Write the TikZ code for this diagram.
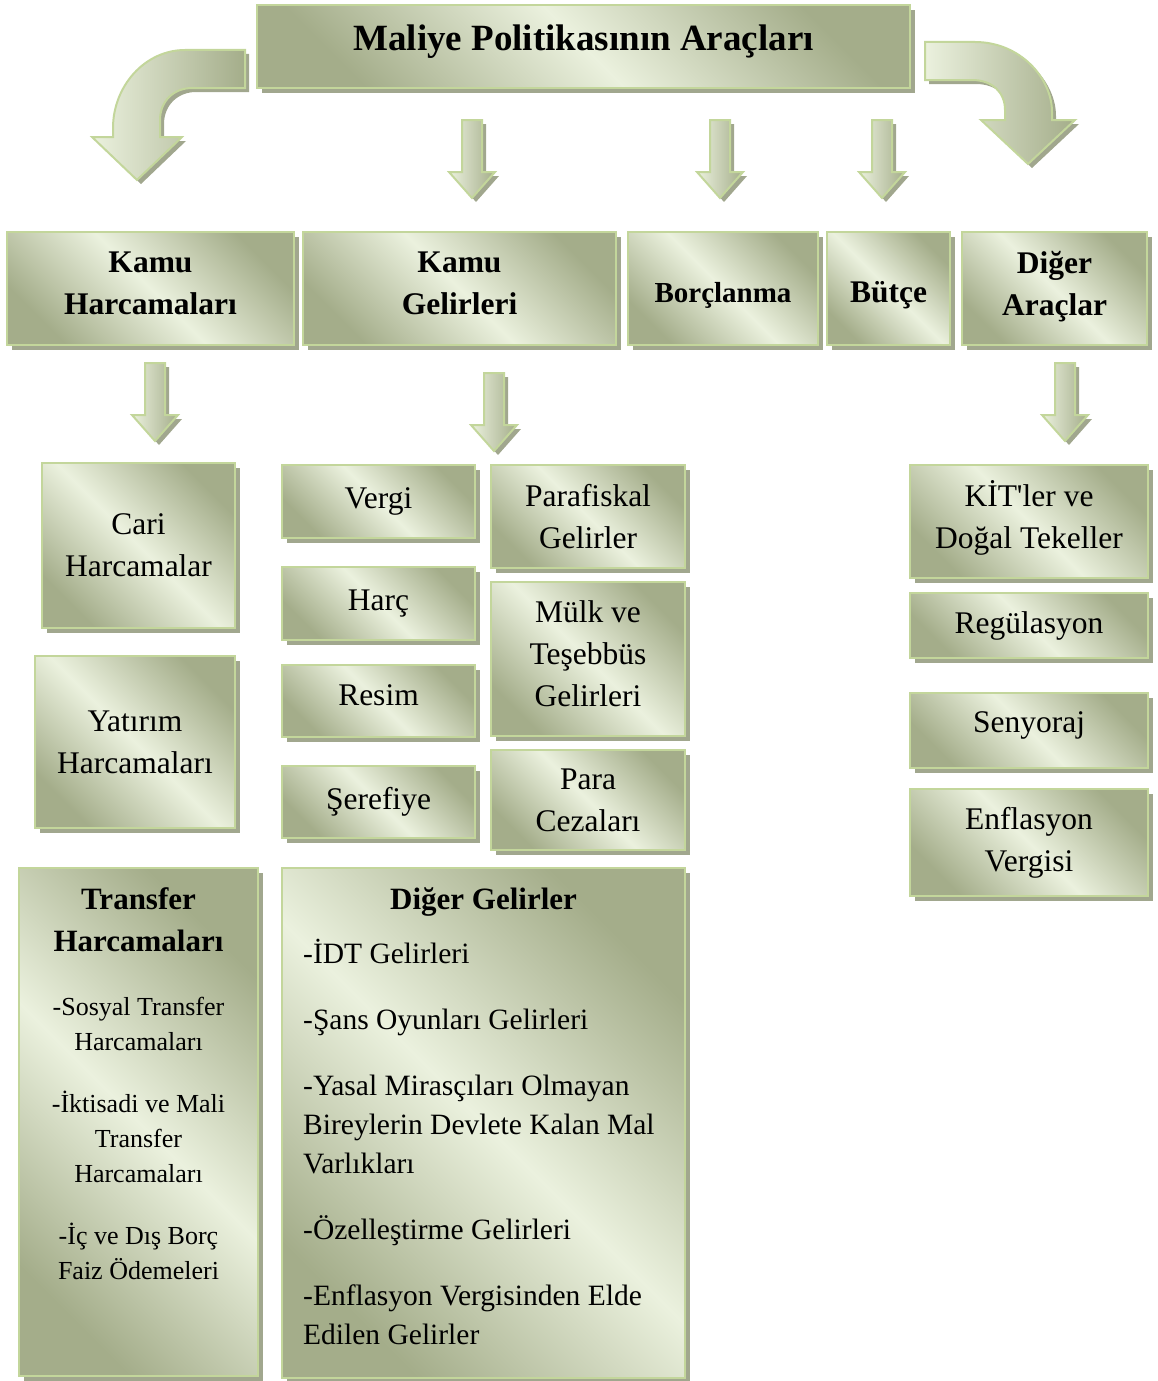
\documentclass[tikz,border=0pt]{standalone}
\usepackage{fontspec}
\setmainfont{Liberation Serif}
\usetikzlibrary{shadows}
\definecolor{boxline}{HTML}{C3D69B}
\definecolor{boxdark}{HTML}{A4AD8A}
\definecolor{boxlight}{HTML}{EBF1DE}
\definecolor{shadowc}{HTML}{A1A78E}
\newcommand\fsz[2]{\fontsize{#1pt}{#2pt}\selectfont}
\newcommand\lowstrut[1]{\rule[-#1]{0pt}{#1}}
\newcommand\highstrut[1]{\rule{0pt}{#1}}

\begin{document}
\begin{tikzpicture}[
x=1pt, y=-1pt,
green shade/.style={draw=boxline, line width=2.5pt,
  top color=boxdark, bottom color=boxdark, middle color=boxlight,
  shading angle=-45,
  drop shadow={shadow xshift=5pt, shadow yshift=-5pt, fill=shadowc, opacity=1}},
box/.style={green shade, rectangle, inner sep=0pt, align=center, font=\fsz{31.5}{42}},
headbox/.style={box, font=\bfseries\fsz{31.5}{42}},
arrowpath/.style={draw=boxline, line width=2pt, left color=boxlight, right color=boxdark,
  drop shadow={shadow xshift=4pt, shadow yshift=-4pt, fill=shadowc, opacity=1}},
dnarrow/.pic={\path[arrowpath] (-10,0) -- (10,0) -- (10,52) -- (23,52) -- (0,78) -- (-23,52) -- (-10,52) -- cycle;}
]
\useasboundingbox (0,0) rectangle (1158,1381);

% top
\node[headbox, minimum width=653pt, minimum height=83pt, text depth=18pt,
  font=\bfseries\fsz{37}{44}] (title) at (583.5,46.5) {Maliye Politikasının Araçları};

% curved arrows
\path[arrowpath] (245,50) -- (185,50) .. controls (145,50) and (113,86) .. (113,128)
  -- (113,137) -- (92,137) -- (137,180) -- (182,137) -- (160,137) -- (160,120)
  .. controls (160,101) and (174,88) .. (192,88) -- (245,88) -- cycle;
\path[arrowpath] (925,42) -- (975,42) .. controls (1020,42) and (1052,78) .. (1052,112)
  -- (1052,120) -- (1075,120) -- (1028,164) -- (981,120) -- (1005,120) -- (1005,110)
  .. controls (1005,92) and (992,80) .. (972,80) -- (925,80) -- cycle;

\pic at (472,120) {dnarrow};
\pic at (720,120) {dnarrow};
\pic at (882,120) {dnarrow};

% first row
\node[headbox, minimum width=287pt, minimum height=113pt] (kh) at (150.5,288.5) {Kamu\\Harcamaları\lowstrut{10pt}};
\node[headbox, minimum width=313pt, minimum height=113pt] (kg) at (459.5,288.5) {Kamu\\Gelirleri\lowstrut{10pt}};
\node[headbox, minimum width=190pt, minimum height=113pt, font=\bfseries\fsz{29}{42}] (borc) at (723,288.5) {\highstrut{34pt}Borçlanma};
\node[headbox, minimum width=123pt, minimum height=113pt] (butce) at (888.5,288.5) {\highstrut{35pt}Bütçe};
\node[headbox, minimum width=185pt, minimum height=113pt] (diger) at (1054.5,288.5) {Diğer\\Araçlar\lowstrut{10pt}};

\pic at (155,363) {dnarrow};
\pic at (494,373) {dnarrow};
\pic at (1065,363) {dnarrow};

% Kamu Harcamalari
\node[box, minimum width=193pt, minimum height=165pt] (cari) at (138.5,545.5) {Cari\\Harcamalar};
\node[box, minimum width=200pt, minimum height=172pt] (yatirim) at (135,742) {Yatırım\\Harcamaları};
\node[box, minimum width=239pt, minimum height=508pt] (transfer) at (138.5,1122) {};
\node[anchor=north, inner sep=0pt, align=center, font=\bfseries\fsz{31}{42}] (trhead) at (138.5,887) {Transfer\\Harcamaları};
\node[anchor=north, inner sep=0pt, align=center, font=\fsz{26}{35}] (trlist) at (138.5,997)
  {-Sosyal Transfer\\Harcamaları\\[27pt]-İktisadi ve Mali\\Transfer\\Harcamaları\\[27pt]-İç ve Dış Borç\\Faiz Ödemeleri};

% Kamu Gelirleri
\node[box, minimum width=193pt, minimum height=73pt] (vergi) at (378.5,501.5) {Vergi};
\node[box, minimum width=193pt, minimum height=73pt] (harc) at (378.5,603.5) {Harç};
\node[box, minimum width=193pt, minimum height=72pt] (resim) at (378.5,701) {Resim\lowstrut{12pt}};
\node[box, minimum width=193pt, minimum height=72pt] (serefiye) at (378.5,802) {Şerefiye};
\node[box, minimum width=194pt, minimum height=103pt] (parafiskal) at (588,516.5) {Parafiskal\\Gelirler};
\node[box, minimum width=194pt, minimum height=154pt] (mulk) at (588,659) {Mülk ve\\Teşebbüs\\Gelirleri\lowstrut{10pt}};
\node[box, minimum width=194pt, minimum height=100pt] (ceza) at (588,800) {Para\\Cezaları};
\node[box, minimum width=403pt, minimum height=510pt] (dgel) at (483.5,1123) {};
\node[anchor=north, inner sep=0pt, font=\bfseries\fsz{31}{42}] (dghead) at (483.5,887) {Diğer Gelirler};
\node[anchor=north west, inner sep=0pt, align=left, font=\fsz{29.5}{39}] (dglist) at (303,939)
  {-İDT Gelirleri\\[27pt]-Şans Oyunları Gelirleri\\[27pt]-Yasal Mirasçıları Olmayan\\Bireylerin Devlete Kalan Mal\\Varlıkları\\[27pt]-Özelleştirme Gelirleri\\[27pt]-Enflasyon Vergisinden Elde\\Edilen Gelirler};

% Diger Araclar
\node[box, minimum width=238pt, minimum height=113pt] (kit) at (1029,521.5) {KİT\textquotesingle ler ve\\Doğal Tekeller\lowstrut{15pt}};
\node[box, minimum width=238pt, minimum height=65pt] (regul) at (1029,625.5) {Regülasyon};
\node[box, minimum width=238pt, minimum height=75pt] (senyo) at (1029,730.5) {Senyoraj\lowstrut{17pt}};
\node[box, minimum width=238pt, minimum height=107pt] (enfl) at (1029,842.5) {Enflasyon\\Vergisi};
\end{tikzpicture}
\end{document}
